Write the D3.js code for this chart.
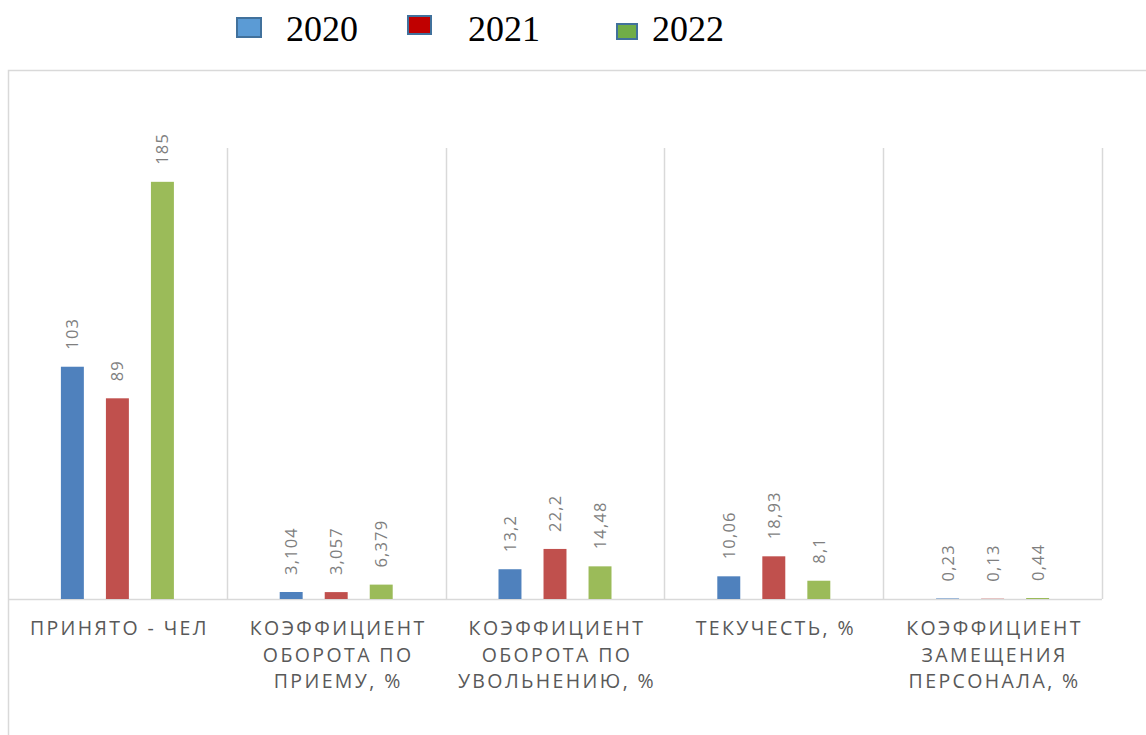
<!DOCTYPE html>
<html>
<head>
<meta charset="utf-8">
<script src="https://cdn.jsdelivr.net/npm/d3@7"></script>
<style>
  body { margin: 0; background: #fff; }
  svg { display: block; }
</style>
</head>
<body>
<svg id="chart"></svg>
<script>
// categories, each split into the lines shown under the axis
const categories = [
    ["ПРИНЯТО - ЧЕЛ"],
    ["КОЭФФИЦИЕНТ", "ОБОРОТА ПО", "ПРИЕМУ, %"],
    ["КОЭФФИЦИЕНТ", "ОБОРОТА ПО", "УВОЛЬНЕНИЮ, %"],
    ["ТЕКУЧЕСТЬ, %"],
    ["КОЭФФИЦИЕНТ", "ЗАМЕЩЕНИЯ", "ПЕРСОНАЛА, %"]
];
const years = ["2020", "2021", "2022"];
const values2020 = [103, 3.104, 13.2, 10.06, 0.23];
const values2021 = [89, 3.057, 22.2, 18.93, 0.13];
const values2022 = [185, 6.379, 14.48, 8.1, 0.44];
const yMax = 200;

const width = 1146, height = 735;
const margin = { top: 148, left: 8, right: 44, bottom: 136 };
const barColors = ["#4f81bd", "#c0504d", "#9bbb59"];
const legendFill = ["#5b9bd5", "#c00000", "#70ad47"];

const svg = d3.select("#chart")
    .attr("width", width)
    .attr("height", height);

// chart frame
svg.append("path")
    .attr("d", `M8.5,${height} V70.5 H${width}`)
    .attr("fill", "none")
    .attr("stroke", "#d9d9d9")
    .attr("stroke-width", 1.5);

const x = d3.scaleBand()
    .domain(d3.range(categories.length))
    .range([margin.left, width - margin.right]);

const x1 = d3.scaleBand()
    .domain(years)
    .range([0, x.bandwidth()])
    .paddingInner(0.49)
    .paddingOuter(1.175);

const y = d3.scaleLinear()
    .domain([0, yMax])
    .range([height - margin.bottom, margin.top]);

// vertical category separators
svg.append("g")
    .selectAll("line")
    .data(d3.range(1, categories.length + 1))
    .join("line")
    .attr("x1", d => Math.round(x(d - 1) + x.bandwidth()) + 0.5)
    .attr("x2", d => Math.round(x(d - 1) + x.bandwidth()) + 0.5)
    .attr("y1", y(yMax))
    .attr("y2", y(0))
    .attr("stroke", "#d9d9d9")
    .attr("stroke-width", 1.5);

// baseline
svg.append("line")
    .attr("x1", margin.left)
    .attr("x2", width - margin.right)
    .attr("y1", y(0) + 0.5)
    .attr("y2", y(0) + 0.5)
    .attr("stroke", "#d9d9d9")
    .attr("stroke-width", 1.5);

const series = [values2020, values2021, values2022];
const fmt = v => String(v).replace(".", ",");

series.forEach((vals, si) => {
    const g = svg.append("g");
    g.selectAll("rect")
        .data(vals)
        .join("rect")
        .attr("x", (d, i) => x(i) + x1(years[si]))
        .attr("y", d => y(d))
        .attr("width", x1.bandwidth())
        .attr("height", d => y(0) - y(d))
        .attr("fill", barColors[si]);

    g.selectAll("text")
        .data(vals)
        .join("text")
        .attr("transform", (d, i) =>
            `translate(${x(i) + x1(years[si]) + x1.bandwidth() / 2 + 6},${y(d) - 17}) rotate(-90)`)
        .attr("font-family", "'Open Sans', sans-serif")
        .attr("font-size", 16.5)
        .attr("letter-spacing", 1.2)
        .attr("fill", "#7f7f7f")
        .text(fmt);
});

// category labels
const catLabels = svg.append("g")
    .selectAll("text")
    .data(categories)
    .join("text")
    .attr("text-anchor", "middle")
    .attr("font-family", "'Open Sans', sans-serif")
    .attr("font-size", 19.5)
    .attr("letter-spacing", 2.4)
    .attr("fill", "#595959");

catLabels.selectAll("tspan")
    .data((d, i) => d.map(line => ({ line, i })))
    .join("tspan")
    .attr("x", d => x(d.i) + x.bandwidth() / 2 + 2)
    .attr("y", (d, j) => y(0) + 36 + j * 26.5)
    .text(d => d.line);

// legend
const legendX = d3.scaleOrdinal().domain(years).range([236, 407, 616]);
const legendTextX = d3.scaleOrdinal().domain(years).range([286, 468, 652]);
const legendBoxY = [17, 15, 23];
const legendBoxW = [26, 25, 22];
const legendBoxH = [21, 20, 17];

const legend = svg.append("g");
years.forEach((yr, i) => {
    legend.append("rect")
        .attr("x", legendX(yr) + 1)
        .attr("y", legendBoxY[i] + 1)
        .attr("width", legendBoxW[i] - 2)
        .attr("height", legendBoxH[i] - 2)
        .attr("fill", legendFill[i])
        .attr("stroke", "#41719c")
        .attr("stroke-width", 2);
    legend.append("text")
        .attr("x", legendTextX(yr))
        .attr("y", 41)
        .attr("font-family", "'Liberation Serif', 'Times New Roman', serif")
        .attr("font-size", 36)
        .attr("fill", "#000")
        .text(yr);
});
</script>
</body>
</html>
